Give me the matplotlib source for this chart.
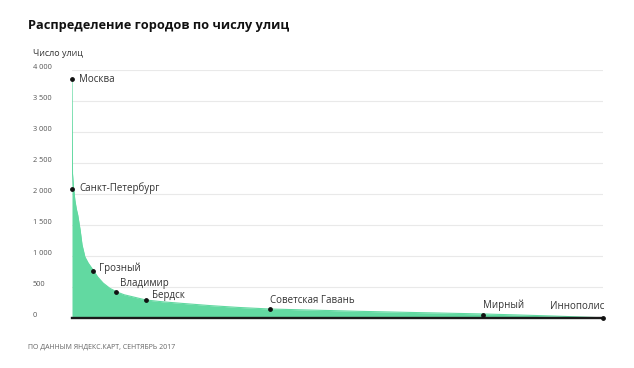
import matplotlib.pyplot as plt
import numpy as np

# rank of city (sorted by number of streets) and number of streets
ranks = [1, 2, 4, 7, 10, 13, 18, 22, 28, 35, 45, 55, 66, 80, 95, 110, 129, 156,
         190, 221, 290, 350, 415, 480, 541, 600, 667, 720, 772, 820, 862, 930,
         1008, 1060, 1113]
streets = [3850, 2330, 2120, 1900, 1760, 1660, 1420, 1180, 985, 885, 775, 660,
           565, 480, 420, 375, 340, 290, 262, 242, 200, 170, 145, 132, 120, 108,
           97, 88, 80, 72, 65, 50, 32, 18, 3]

city_names = ["Москва", "Санкт-Петербург", "Грозный", "Владимир", "Бердск",
              "Советская Гавань", "Мирный", "Иннополис"]
city_ranks = [1, 1, 45, 93, 156, 415, 862, 1113]
city_streets = [3850, 2080, 760, 420, 290, 145, 50, 0]

y_ticks = [0, 500, 1000, 1500, 2000, 2500, 3000, 3500, 4000]
y_tick_labels = ["0", "500", "1 000", "1 500", "2 000", "2 500", "3 000", "3 500", "4 000"]

plt.rcParams['font.family'] = ['Open Sans', 'DejaVu Sans']

fig = plt.figure(figsize=(6.34, 3.68), dpi=100)
ax = fig.add_axes([72 / 634, 1 - 318 / 368, 531 / 634, 248 / 368])

green = "#62d9a1"
ax.fill_between(ranks, streets, 0, color=green, lw=0, zorder=2)
ax.plot(ranks, streets, color=green, lw=0.8, zorder=2)

ax.set_xlim(1, 1113)
ax.set_ylim(0, 4000)
ax.set_yticks(y_ticks)
ax.set_yticklabels([])
ax.set_xticks([])
ax.tick_params(left=False)
ax.grid(axis='y', color="#e9e9e9", lw=0.8, zorder=0)
for s in ax.spines.values():
    s.set_visible(False)
ax.axhline(0, color="#1a1a1a", lw=1.7, zorder=3, clip_on=False)

# y tick labels at the left edge, slightly above the grid lines
for v, lab in zip(y_ticks, y_tick_labels):
    ax.annotate(lab, xy=(33 / 634, v), xycoords=(fig.transFigure, 'data'),
                xytext=(0, 2), textcoords='offset points',
                fontsize=5.3, color="#555555", va='center', ha='left')

# city markers
ax.scatter(city_ranks, city_streets, s=6, color="#111111", zorder=4, clip_on=False)

offsets = [(5, 0), (5, 1), (4, 2), (3, 6), (4, 3), (0, 6), (0, 7), (1, 8)]
aligns = ['left', 'left', 'left', 'left', 'left', 'left', 'left', 'right']
for name, r, v, off, ha in zip(city_names, city_ranks, city_streets, offsets, aligns):
    ax.annotate(name, xy=(r, v), xytext=off, textcoords='offset points',
                fontsize=7, color="#333333", ha=ha, va='center', zorder=5)

fig.text(28 / 634, 1 - 25 / 368, "Распределение городов по числу улиц",
         fontsize=9.2, fontweight='bold', color="#111111", va='center', ha='left')
fig.text(33 / 634, 1 - 54 / 368, "Число улиц", fontsize=6.5, color="#333333",
         va='center', ha='left')
fig.text(28 / 634, 1 - 347 / 368, "ПО ДАННЫМ ЯНДЕКС.КАРТ, СЕНТЯБРЬ 2017",
         fontsize=5, color="#666666", va='center', ha='left')

fig.savefig("out.png", dpi=100)
